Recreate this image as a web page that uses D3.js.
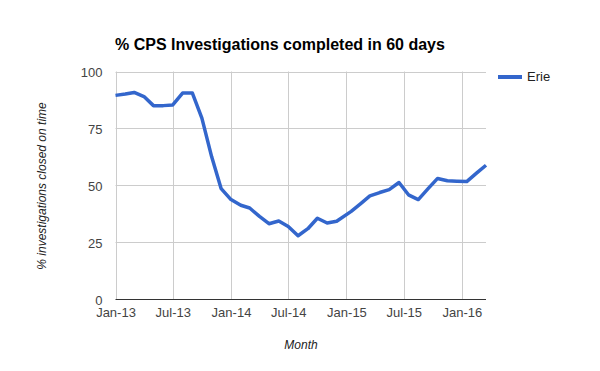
<!DOCTYPE html>
<html><head><meta charset="utf-8">
<script src="https://cdn.jsdelivr.net/npm/d3@7"></script>
<style>
body{margin:0;background:#fff;}
svg{display:block;font-family:"Liberation Sans",Arial,sans-serif;}
</style>
</head><body>
<svg id="chart" width="600" height="371"></svg>
<script>
const dates = [
 "2013-01-01","2013-02-01","2013-03-01","2013-04-01","2013-05-01","2013-06-01",
 "2013-07-01","2013-08-01","2013-09-01","2013-10-01","2013-11-01","2013-12-01",
 "2014-01-01","2014-02-01","2014-03-01","2014-04-01","2014-05-01","2014-06-01",
 "2014-07-01","2014-08-01","2014-09-01","2014-10-01","2014-11-01","2014-12-01",
 "2015-01-16","2015-02-16","2015-03-16","2015-04-16","2015-05-16","2015-06-16",
 "2015-07-16","2015-08-16","2015-09-16","2015-10-16","2015-11-16","2015-12-16",
 "2016-01-16","2016-02-16","2016-03-17"
];
const erie = [
 89.5, 90.1, 90.8, 89.0, 85.0, 85.0,
 85.3, 90.5, 90.5, 79.5, 62.5, 48.5,
 43.7, 41.2, 40.0, 36.3, 33.1, 34.3,
 31.9, 27.8, 30.9, 35.5, 33.4, 34.2,
 38.5, 42.0, 45.3, 46.8, 48.1, 51.2,
 45.8, 43.7, 48.5, 53.0, 52.0, 51.8,
 51.6, 55.3, 58.8
];
const xTickDates = ["2013-01-01","2013-07-01","2014-01-01","2014-07-01","2015-01-01","2015-07-01","2016-01-01"];
const xTickLabels = ["Jan-13","Jul-13","Jan-14","Jul-14","Jan-15","Jul-15","Jan-16"];
const yTicks = [0,25,50,75,100];
const seriesName = "Erie";
const title = "% CPS Investigations completed in 60 days";
const xTitle = "Month";
const yTitle = "% investigations closed on time";

const parse = d3.utcParse("%Y-%m-%d");
const data = dates.map((d,i)=>({date:parse(d), value:erie[i]}));
const svg = d3.select("#chart");
const L=115.5, R=486, T=71.5, B=299;
const x = d3.scaleUtc().domain([parse("2013-01-01"), parse("2016-03-17")]).range([L,R]);
const y = d3.scaleLinear().domain([0,100]).range([B,T]);

// gridlines
svg.append("g").selectAll("line.h").data(yTicks.filter(v=>v>0)).join("line")
  .attr("x1",L).attr("x2",R).attr("y1",d=>Math.round(y(d))+0.5).attr("y2",d=>Math.round(y(d))+0.5)
  .attr("stroke","#cccccc").attr("stroke-width",1);
svg.append("g").selectAll("line.v").data(xTickDates.map(parse)).join("line")
  .attr("x1",d=>Math.round(x(d))+0.5).attr("x2",d=>Math.round(x(d))+0.5).attr("y1",T).attr("y2",B)
  .attr("stroke","#cccccc").attr("stroke-width",1);
// baseline
svg.append("line").attr("x1",L).attr("x2",R).attr("y1",Math.round(y(0))+0.5).attr("y2",Math.round(y(0))+0.5)
  .attr("stroke","#333333").attr("stroke-width",1);

// axes labels
const yAxis = d3.axisLeft(y).tickValues(yTicks).tickSize(0).tickPadding(13);
const gy = svg.append("g").attr("transform",`translate(${L},0)`).call(yAxis);
gy.select(".domain").remove();
gy.selectAll("text").attr("dy","0.4em").attr("font-size",13).attr("fill","#444").attr("font-family","Liberation Sans, Arial, sans-serif");

const xAxis = d3.axisBottom(x).tickValues(xTickDates.map(parse)).tickFormat((d,i)=>xTickLabels[i]).tickSize(0).tickPadding(9);
const gx = svg.append("g").attr("transform",`translate(0,${B})`).call(xAxis);
gx.select(".domain").remove();
gx.selectAll("text").attr("font-size",13).attr("fill","#444").attr("font-family","Liberation Sans, Arial, sans-serif");

// line
const line = d3.line().x(d=>x(d.date)).y(d=>y(d.value));
svg.append("path").datum(data).attr("d",line).attr("fill","none")
  .attr("stroke","#3366cc").attr("stroke-width",3.5).attr("stroke-linejoin","round");

// title
svg.append("text").attr("x",115).attr("y",50).text(title)
  .attr("font-size",16).attr("font-weight","bold").attr("fill","#000");
// axis titles
svg.append("text").attr("x",301).attr("y",348.5).attr("text-anchor","middle")
  .attr("font-size",12).attr("font-style","italic").attr("fill","#222").text(xTitle);
svg.append("text").attr("transform","translate(45.5,186) rotate(-90)").attr("text-anchor","middle")
  .attr("font-size",12).attr("font-style","italic").attr("fill","#222").text(yTitle);
// legend
svg.append("rect").attr("x",498).attr("y",75).attr("width",24).attr("height",4).attr("fill","#3366cc");
svg.append("text").attr("x",527).attr("y",81).attr("font-size",13).attr("fill","#222").text(seriesName);
</script>
</body></html>
